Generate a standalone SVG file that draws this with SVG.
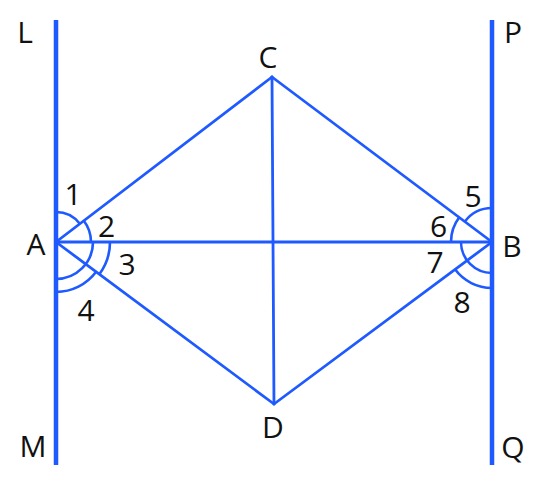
<svg xmlns="http://www.w3.org/2000/svg" width="541" height="481" viewBox="0 0 541 481">
<style>
.thick{stroke:#1e5aff;stroke-width:4.5;fill:none;stroke-linecap:butt}
.ln{stroke:#1e5aff;stroke-width:2.8;fill:none;stroke-linecap:round}
.arc{stroke:#1e5aff;stroke-width:2.6;fill:none}
text{font-family:"Open Sans","DejaVu Sans",sans-serif;font-size:30px;fill:#111;text-anchor:middle}
</style>
<rect width="541" height="481" fill="#fff"/>
<g id="connectors">
<line class="thick" x1="56" y1="20" x2="56" y2="465"/>
<line class="thick" x1="492" y1="20" x2="492" y2="465"/>
<line class="ln" x1="56" y1="242" x2="272" y2="77"/>
<line class="ln" x1="56" y1="242" x2="274" y2="404"/>
<line class="ln" x1="56" y1="242" x2="492" y2="242"/>
<line class="ln" x1="272" y1="77" x2="492" y2="242"/>
<line class="ln" x1="274" y1="404" x2="492" y2="242"/>
<line class="ln" x1="272" y1="77" x2="274" y2="404"/>
</g>
<g id="angles-A">
<path class="arc" d="M56,212 A30,30 0 0 1 79.84,223.79"/>
<path class="arc" d="M83.81,220.75 A35,35 0 0 1 91,242"/>
<path class="arc" d="M93,242 A37,37 0 0 1 56,279"/>
<path class="arc" d="M110,242 A54,54 0 0 1 99.35,274.21"/>
<path class="arc" d="M96.14,271.83 A50,50 0 0 1 56,292"/>
</g>
<g id="angles-B">
<path class="arc" d="M492,208 A34,34 0 0 0 464.86,221.52"/>
<path class="arc" d="M459.27,217.31 A41,41 0 0 0 451,242"/>
<path class="arc" d="M461,242 A31,31 0 0 0 492,273"/>
<path class="arc" d="M455,269.33 A46,46 0 0 0 492,288"/>
</g>
<g id="node-L"><text x="25" y="43">L</text></g>
<g id="node-P"><text x="513" y="43">P</text></g>
<g id="node-M"><text x="33" y="457">M</text></g>
<g id="node-Q"><text x="513" y="458">Q</text></g>
<g id="node-C"><text x="268" y="68">C</text></g>
<g id="node-D"><text x="273" y="438">D</text></g>
<g id="node-A"><text x="36" y="255">A</text></g>
<g id="node-B"><text x="512" y="257">B</text></g>
<g id="labels">
<text x="73" y="205">1</text>
<text x="106.5" y="237">2</text>
<text x="127" y="275">3</text>
<text x="86" y="321">4</text>
<text x="473" y="207">5</text>
<text x="438.5" y="237">6</text>
<text x="435" y="273">7</text>
<text x="462" y="313">8</text>
</g>
</svg>
